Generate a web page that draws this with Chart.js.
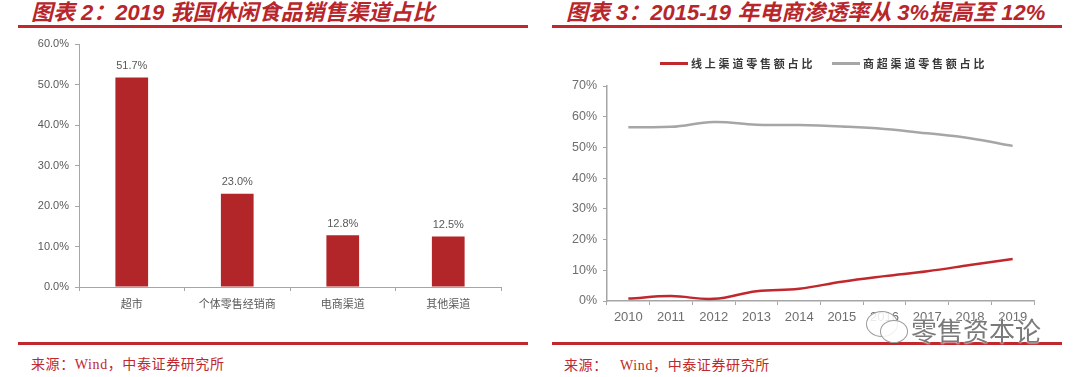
<!DOCTYPE html>
<html><head><meta charset="utf-8">
<script src="https://cdn.jsdelivr.net/npm/chart.js@4.4.1/dist/chart.umd.min.js"></script>
<style>
body{margin:0;width:1080px;height:377px;background:#fff;position:relative;overflow:hidden;font-family:'Noto Sans CJK SC',sans-serif}
.title{position:absolute;top:0;height:26px;line-height:26px;font-weight:bold;font-style:italic;font-size:22px;color:#b8262b;white-space:nowrap;font-family:'Liberation Sans','Noto Sans CJK SC',sans-serif}
.rule{position:absolute;height:3px;background:#c0282d}
.src{position:absolute;font-family:'Liberation Serif','Noto Sans CJK SC',serif;font-size:14px;line-height:16px;color:#c0282d;white-space:nowrap;letter-spacing:0.6px}
canvas{position:absolute}
.lg{position:absolute;top:56px;height:14px;font-size:11px;line-height:14px;font-weight:bold;color:#383838;letter-spacing:2.8px;white-space:nowrap}
.lg i{position:absolute;top:6px;height:2.5px;width:28px}
.wm{position:absolute;left:911px;top:316px;font-size:26px;line-height:28px;color:#7a7a7a;letter-spacing:0px;text-shadow:0 0 2px #fff,0 0 2px #fff}
.bub{position:absolute;border:1.5px solid #9a9a9a;border-radius:50%;background:rgba(255,255,255,0.85)}
</style></head>
<body>
<div class="title" style="left:31px">图表 2：2019 我国休闲食品销售渠道占比</div>
<div class="title" style="left:566px">图表 3：2015-19 年电商渗透率从 3%提高至 12%</div>
<div class="rule" style="left:18px;width:510px;top:25px"></div>
<div class="rule" style="left:552px;width:510px;top:25px"></div>
<canvas id="c1" width="540" height="295" style="left:0;top:30px"></canvas>
<canvas id="c2" width="540" height="295" style="left:540px;top:40px"></canvas>
<div id="legend"></div>
<div class="rule" style="left:18px;width:510px;top:342px"></div>
<div class="rule" style="left:552px;width:510px;top:342px"></div>
<div class="src" style="left:31px;top:357px">来源：Wind，中泰证券研究所</div>
<div class="src" style="left:564px;top:358px">来源：&nbsp;&nbsp; Wind，中泰证券研究所</div>
<div class="bub" style="left:866px;top:311px;width:30px;height:24px"></div>
<div class="bub" style="left:880px;top:320px;width:26px;height:21px"></div>
<div class="wm">零售资本论</div>
<script>
// ---- Data ----
const categories = ['超市', '个体零售经销商', '电商渠道', '其他渠道'];
const channelShare = [51.7, 23.0, 12.8, 12.5];

const years = ['2010','2011','2012','2013','2014','2015','2016','2017','2018','2019'];
const seriesNames = ['线上渠道零售额占比', '商超渠道零售额占比'];
const onlineShare = [0.8, 1.6, 0.7, 3.2, 4.0, 6.3, 8.1, 9.7, 11.7, 13.7];
const supermarketShare = [56.6, 56.7, 58.3, 57.4, 57.3, 56.8, 56.0, 54.6, 53.0, 50.5];

const leftTicks = [0, 10, 20, 30, 40, 50, 60];
const rightTicks = [0, 10, 20, 30, 40, 50, 60, 70];

const RED = '#b2262a', LINE_RED = '#c0282d', GRAY = '#a6a6a6', AXIS = '#a6a6a6', TXT = '#595959';
const F = "'Liberation Sans', Arial, 'Noto Sans CJK SC', sans-serif";

const valueLabels = {
  id: 'valueLabels',
  afterDatasetsDraw(chart) {
    const ctx = chart.ctx;
    const meta = chart.getDatasetMeta(0);
    ctx.save();
    ctx.font = "11px " + F;
    ctx.fillStyle = TXT;
    ctx.textAlign = 'center';
    ctx.textBaseline = 'bottom';
    meta.data.forEach((el, i) => {
      ctx.fillText(chart.data.datasets[0].data[i].toFixed(1) + '%', el.x, el.y - 6);
    });
    ctx.restore();
  }
};

new Chart(document.getElementById('c1'), {
  type: 'bar',
  data: { labels: categories, datasets: [{ data: channelShare, backgroundColor: RED, barPercentage: 0.62, categoryPercentage: 0.5 }] },
  options: {
    responsive: false, animation: false,
    layout: { padding: { left: 0, right: 39, top: 14, bottom: 0 } },
    plugins: { legend: { display: false }, tooltip: { enabled: false } },
    scales: {
      x: {
        afterFit(s) { s.height = 38; },
        grid: { display: true, drawOnChartArea: false, tickLength: 4, color: AXIS, offset: true },
        border: { color: AXIS, width: 1 },
        ticks: { color: TXT, font: { size: 11, family: F }, padding: 7, maxRotation: 0 }
      },
      y: {
        min: 0, max: 60,
        afterFit(s) { s.width = 79; },
        afterBuildTicks(s) { s.ticks = leftTicks.map(v => ({ value: v })); },
        grid: { display: true, drawOnChartArea: false, tickLength: 4, color: AXIS },
        border: { color: AXIS, width: 1 },
        ticks: { color: TXT, font: { size: 11, family: F }, padding: 6, callback: v => v.toFixed(1) + '%' }
      }
    }
  },
  plugins: [valueLabels]
});

new Chart(document.getElementById('c2'), {
  type: 'line',
  data: {
    labels: years,
    datasets: [
      { label: seriesNames[0], data: onlineShare, borderColor: LINE_RED, borderWidth: 2.5, pointRadius: 0, tension: 0.4, fill: false },
      { label: seriesNames[1], data: supermarketShare, borderColor: GRAY, borderWidth: 2.5, pointRadius: 0, tension: 0.4, fill: false }
    ]
  },
  options: {
    responsive: false, animation: false,
    layout: { padding: { left: 0, right: 46, top: 46, bottom: 0 } },
    plugins: { legend: { display: false }, tooltip: { enabled: false } },
    scales: {
      x: {
        offset: true,
        afterFit(s) { s.height = 34; },
        grid: { display: true, drawOnChartArea: false, tickLength: 4, color: AXIS, offset: true },
        border: { color: AXIS, width: 1.5 },
        ticks: { color: '#6e6e6e', font: { size: 13, family: F }, padding: 5, maxRotation: 0, autoSkip: false }
      },
      y: {
        min: 0, max: 70,
        afterFit(s) { s.width = 67; },
        afterBuildTicks(s) { s.ticks = rightTicks.map(v => ({ value: v })); },
        grid: { display: true, drawOnChartArea: false, tickLength: 4, color: AXIS },
        border: { color: AXIS, width: 1.5 },
        ticks: { color: '#6e6e6e', font: { size: 12.5, family: F }, padding: 6, callback: v => v + '%' }
      }
    }
  }
});

// HTML legend built from the series names
const lg = document.getElementById('legend');
const lgPos = [{ x: 660, c: LINE_RED }, { x: 832, c: GRAY }];
seriesNames.forEach((n, i) => {
  const d = document.createElement('div');
  d.className = 'lg';
  d.style.left = lgPos[i].x + 'px';
  d.style.paddingLeft = '31px';
  d.innerHTML = '<i style="left:0;background:' + lgPos[i].c + '"></i>' + n;
  lg.appendChild(d);
});
</script>
</body></html>
